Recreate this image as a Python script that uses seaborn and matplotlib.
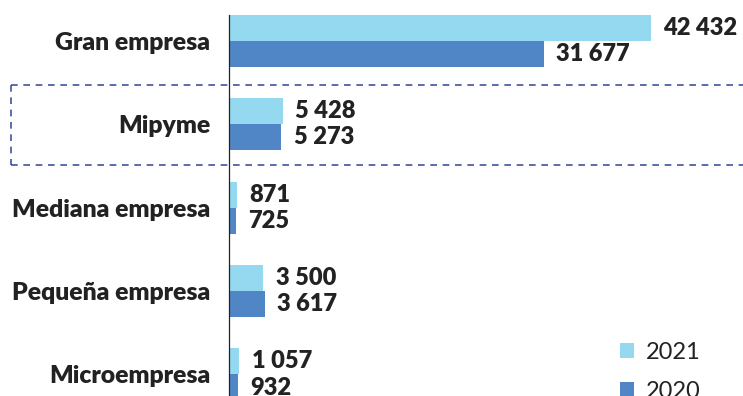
import matplotlib
matplotlib.use("Agg")
import matplotlib.pyplot as plt
from matplotlib.lines import Line2D
from matplotlib.patches import Patch
import seaborn as sns
import pandas as pd

categories = ["Gran empresa", "Mipyme", "Mediana empresa", "Pequeña empresa", "Microempresa"]
values_2021 = [42432, 5428, 871, 3500, 1057]
values_2020 = [31677, 5273, 725, 3617, 932]
years = ["2021", "2020"]
colors = {"2021": "#95D9F1", "2020": "#5186C6"}

df = pd.DataFrame({
    "categoria": categories * 2,
    "valor": values_2021 + values_2020,
    "anio": ["2021"] * len(categories) + ["2020"] * len(categories),
})

sns.set_style("white")
plt.rcParams["font.family"] = ["Lato", "DejaVu Sans"]
text_color = "#222222"

W, H = 743, 396
fig = plt.figure(figsize=(W / 100, H / 100), dpi=100)
ax_left = 228.5
ax = fig.add_axes([ax_left / W, 0, (W - ax_left) / W, 381 / H])

sns.barplot(data=df, y="categoria", x="valor", hue="anio", hue_order=years,
            order=categories, palette=colors, width=0.625, orient="h",
            linewidth=0, saturation=1, ax=ax, legend=False)

xmax = 42432 * (W - ax_left) / 422.5
ax.set_xlim(0, xmax)
ax.set_ylim(4.258, -0.3125)

# value labels next to each bar
fmt = lambda v: f"{v:,}".replace(",", " ")
for container in ax.containers:
    for bar in container:
        v = bar.get_width()
        ax.annotate(fmt(int(round(v))), xy=(v, bar.get_y() + bar.get_height() / 2),
                    xytext=(9, 0), textcoords="offset points", ha="left", va="center",
                    fontsize=17, fontweight="heavy", color=text_color, clip_on=False)

ax.set_xticks([])
ax.set_xlabel("")
ax.set_ylabel("")
ax.tick_params(axis="y", length=0, pad=13)
for lab in ax.get_yticklabels():
    lab.set_fontsize(17.8)
    lab.set_fontweight("heavy")
    lab.set_color(text_color)
for s in ["top", "right", "bottom"]:
    ax.spines[s].set_visible(False)
ax.spines["left"].set_color("#222222")
ax.spines["left"].set_linewidth(0.9)

# dashed frame around the Mipyme group
dash = dict(color="#4252A0", linewidth=1.2, linestyle=(0, (4.0, 3.4)))
y_top, y_bot, x0 = 1 - 85 / H, 1 - 164.5 / H, 11 / W
fig.add_artist(Line2D([x0, 1.0], [y_top, y_top], transform=fig.transFigure, **dash))
fig.add_artist(Line2D([x0, 1.0], [y_bot, y_bot], transform=fig.transFigure, **dash))
fig.add_artist(Line2D([x0, x0], [y_top, y_bot], transform=fig.transFigure, **dash))

handles = [Patch(facecolor=colors[y], edgecolor="none") for y in years]
fig.legend(handles, years, loc="upper left", bbox_to_anchor=(620 / W, 1 - 342 / H),
           frameon=False, fontsize=17, handlelength=0.6, handleheight=0.6,
           handletextpad=0.5, labelspacing=0.75, labelcolor=text_color,
           borderpad=0, borderaxespad=0)

fig.savefig("out.png", dpi=100)
